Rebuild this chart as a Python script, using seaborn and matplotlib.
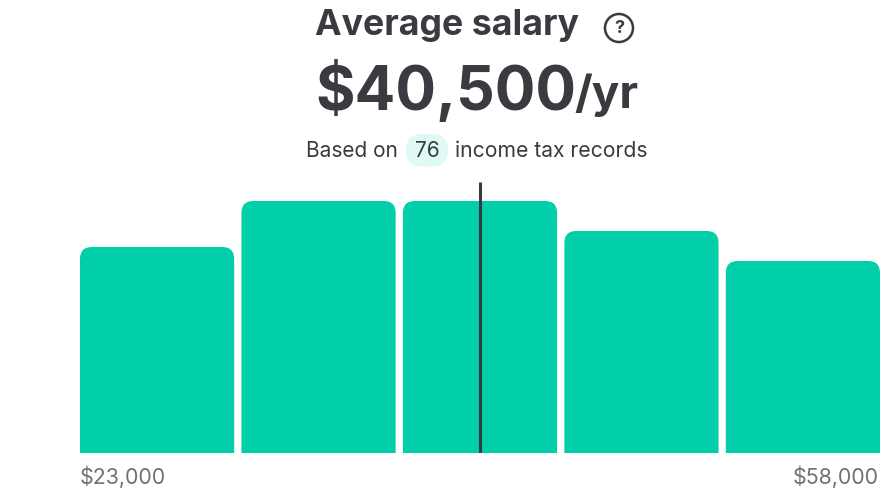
import matplotlib
matplotlib.use('Agg')
import matplotlib.pyplot as plt
from matplotlib.patches import FancyBboxPatch, Circle
import pandas as pd
import seaborn as sns

# bin heights (relative units)
bins = ['bin1', 'bin2', 'bin3', 'bin4', 'bin5']
heights = [206, 252, 252, 222, 192]
salary_min = 23000
salary_max = 58000
salary_avg = 40500
records = 76

W, H = 882, 498
GREEN = '#00CFAA'
DARK = '#3A3A40'
GREY = '#6F7276'

sns.set_theme(style='white')
plt.rcParams['font.family'] = ['Inter', 'DejaVu Sans']

fig = plt.figure(figsize=(W / 100, H / 100), dpi=100)
fig.patch.set_facecolor('white')


def px_text(x, y, s, **kw):
    fig.text(x / W, 1 - y / H, s, va='center', **kw)


# plot area: x 80-880, baseline at y=453, top at y=182
ax = fig.add_axes([80 / W, 1 - 453 / H, 800 / W, 271 / H])
df = pd.DataFrame({'bin': bins, 'height': heights})
bar_w = 0.955
sns.barplot(data=df, x='bin', y='height', color=GREEN, width=bar_w, saturation=1, ax=ax)
x0, x1 = -bar_w / 2, len(bins) - 1 + bar_w / 2
ax.set_xlim(x0, x1)
ax.set_ylim(0, 271)
ax.axis('off')

# swap the square bars for ones with rounded tops, the bottom is clipped by the axes
x_px = (x1 - x0) / 800
r = 12
for bar in list(ax.patches):
    bx, bw, bh = bar.get_x(), bar.get_width(), bar.get_height()
    bar.set_visible(False)
    ax.add_patch(FancyBboxPatch((bx + r * x_px, -30), bw - 2 * r * x_px, bh + 30 - r,
                                boxstyle='round', mutation_aspect=1 / x_px,
                                fc=GREEN, ec='none', transform=ax.transData))
    ax.patches[-1].set_boxstyle('round', pad=r * x_px, rounding_size=r * x_px)

# marker for the average
avg_pos = x0 + (salary_avg - salary_min) / (salary_max - salary_min) * (x1 - x0)
ax.plot([avg_pos, avg_pos], [0, 271], color=DARK, lw=2.2, solid_capstyle='butt', zorder=5)

# header
px_text(315, 26, 'Average salary', fontsize=25.7, fontweight='bold', color=DARK, ha='left')
px_text(315, 91, f'${salary_avg:,}', fontsize=43.5, fontweight='bold', color=DARK, ha='left')
px_text(574, 95, '/yr', fontsize=33, fontweight='bold', color=DARK, ha='left')

# help icon
overlay = fig.add_axes([0, 0, 1, 1], facecolor='none')
overlay.set_xlim(0, W)
overlay.set_ylim(H, 0)
overlay.axis('off')
overlay.add_patch(Circle((619, 28), 14, fc='white', ec=DARK, lw=1.8))
overlay.text(619, 28, '?', fontsize=13, fontweight='bold', color=DARK, ha='center', va='center')

# records line with pill
overlay.add_patch(FancyBboxPatch((422, 150), 10, 0.5, boxstyle='round', fc='#DFFAF4', ec='none'))
overlay.patches[-1].set_boxstyle('round', pad=16, rounding_size=16)
px_text(306, 151, 'Based on', fontsize=15, color=DARK, ha='left')
px_text(427, 151, str(records), fontsize=15, color=DARK, ha='center')
px_text(455, 151, 'income tax records', fontsize=15.2, color=DARK, ha='left')

# axis ends
px_text(80, 477, f'${salary_min:,}', fontsize=15.4, color=GREY, ha='left')
px_text(879, 477, f'${salary_max:,}', fontsize=15.4, color=GREY, ha='right')

fig.savefig('out.png', dpi=100)
